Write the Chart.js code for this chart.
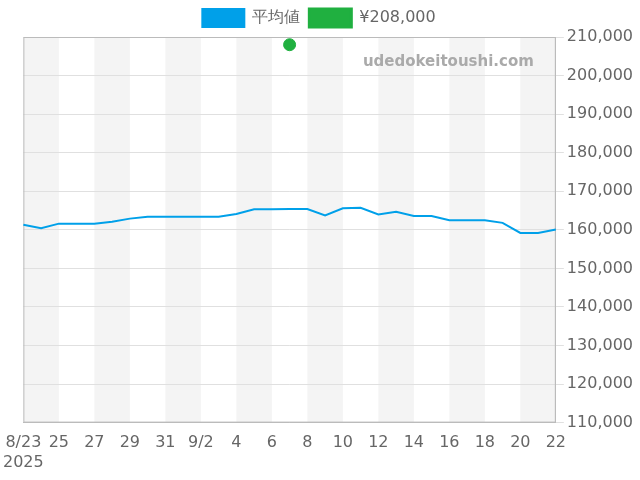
<!DOCTYPE html>
<html><head><meta charset="utf-8">
<script src="https://cdn.jsdelivr.net/npm/chart.js@4"></script>
<style>body{margin:0}#w{width:640px;height:480px}</style></head>
<body><div id="w"><canvas id="c"></canvas></div>
<script>
const labels=["8/23","24","25","26","27","28","29","30","31","9/1","9/2","3","4","5","6","7","8","9","10","11","12","13","14","15","16","17","18","19","20","21","22"];
const avgValues=[161300,160400,161600,161600,161600,162100,162900,163400,163400,163400,163400,163400,164100,165300,165300,165400,165400,163700,165600,165700,164000,164700,163600,163600,162500,162500,162500,161800,159200,159200,160100];
const priceValues=labels.map((l,i)=>i===15?208000:null);
const yTicks=[110000,210000,10000];
const bands={id:'bands',beforeDraw(ch){const {ctx,chartArea:a,scales:{x}}=ch;ctx.save();ctx.fillStyle='#f4f4f4';
 for(let i=0;i<labels.length-1;i+=4){const x0=x.getPixelForValue(i),x1=x.getPixelForValue(Math.min(i+2,labels.length-1));ctx.fillRect(x0,a.top,x1-x0,a.bottom-a.top);}
 ctx.restore();},
 beforeDatasetsDraw(ch){const {ctx,chartArea:a}=ch;ctx.save();ctx.strokeStyle='#bbb';ctx.lineWidth=1;ctx.strokeRect(a.left+0.5,a.top+0.5,a.right-a.left-1,a.bottom-a.top-1);
 ctx.font='bold 15px "DejaVu Sans"';ctx.fillStyle='#aaa';ctx.textAlign='right';ctx.textBaseline='top';ctx.fillText('udedokeitoushi.com',a.right-22,a.top+18);ctx.restore();}};
new Chart(document.getElementById('c'),{type:'line',data:{labels,datasets:[
{label:'平均値',data:avgValues,borderColor:'#00a0e9',backgroundColor:'#00a0e9',borderWidth:2,pointRadius:0,tension:0},
{label:'¥208,000',data:priceValues,borderColor:'#20b040',backgroundColor:'#20b040',pointRadius:6,showLine:false}]},
options:{responsive:true,maintainAspectRatio:false,animation:false,layout:{padding:{left:2,right:4,bottom:5}},
plugins:{legend:{labels:{font:{size:16,family:'"DejaVu Sans"'},color:'#666',boxWidth:42,boxHeight:18,padding:9}},tooltip:{enabled:false}},
scales:{x:{offset:false,grid:{display:false},border:{color:'#bbb'},ticks:{autoSkip:false,maxRotation:0,font:{size:16,family:'"DejaVu Sans"'},color:'#666',
 callback:(v,i)=>i%2?null:(i===0?['8/23','2025']:labels[i])}},
y:{position:'right',min:yTicks[0],max:yTicks[1],ticks:{stepSize:yTicks[2],font:{size:16,family:'"DejaVu Sans"'},color:'#666',callback:v=>v.toLocaleString('en-US')},grid:{color:'#e0e0e0'},border:{color:'#bbb'}}}},
plugins:[bands]});
</script></body></html>
